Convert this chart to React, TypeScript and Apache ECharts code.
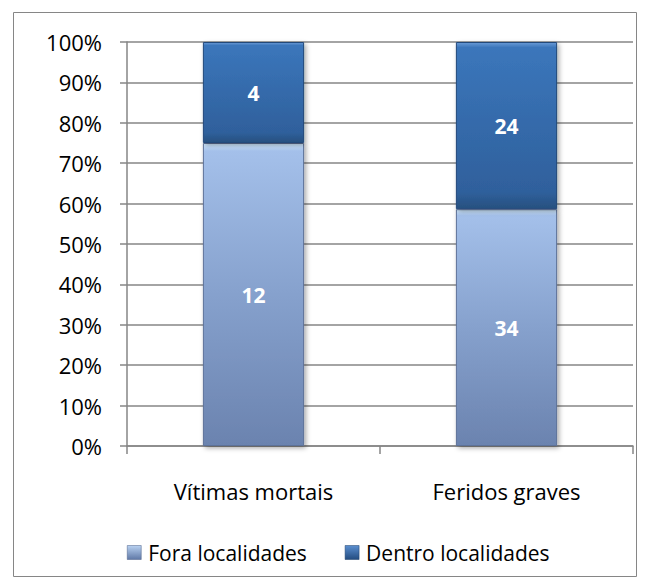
import React, { useEffect, useRef } from "react";
import * as echarts from "echarts";

const categories = ["Vítimas mortais", "Feridos graves"];
const foraValues = [12, 34];
const dentroValues = [4, 24];
const seriesNames = ["Fora localidades", "Dentro localidades"];

const totals = categories.map((_, i) => foraValues[i] + dentroValues[i]);
const foraPct = foraValues.map((v, i) => (v / totals[i]) * 100);
const dentroPct = dentroValues.map((v, i) => (v / totals[i]) * 100);

const FONT = "'Open Sans', sans-serif";

export default function App() {
  const ref = useRef<HTMLDivElement>(null);
  useEffect(() => {
    if (!ref.current) return;
    const chart = echarts.init(ref.current, null, { renderer: "svg" });
    const foraFill = new echarts.graphic.LinearGradient(0, 0, 0, 1, [
      { offset: 0, color: "#d2ebff" },
      { offset: 0.025, color: "#a4c0ea" },
      { offset: 0.5, color: "#86a1cd" },
      { offset: 1, color: "#6b83af" },
    ]);
    const dentroFill = new echarts.graphic.LinearGradient(0, 0, 0, 1, [
      { offset: 0, color: "#6a9ad6" },
      { offset: 0.03, color: "#3b76bb" },
      { offset: 0.9, color: "#2f609c" },
      { offset: 1, color: "#27507f" },
    ]);
    const legendFora = new echarts.graphic.LinearGradient(0, 0, 0, 1, [
      { offset: 0, color: "#b9d2f2" },
      { offset: 1, color: "#5f78a6" },
    ]);
    const legendDentro = new echarts.graphic.LinearGradient(0, 0, 0, 1, [
      { offset: 0, color: "#5b8fd0" },
      { offset: 1, color: "#234c80" },
    ]);
    const labelStyle = {
      show: true,
      position: "inside" as const,
      color: "#ffffff",
      fontWeight: "bold" as const,
      fontSize: 21,
      fontFamily: FONT,
    };
    chart.setOption({
      animation: false,
      backgroundColor: "#ffffff",
      grid: { left: 127, right: 16, top: 42, bottom: 142, containLabel: false },
      graphic: [
        {
          type: "rect",
          shape: { x: 13.5, y: 12.5, width: 623, height: 564 },
          style: { fill: "none", stroke: "#868686", lineWidth: 1 },
          z: -1,
          silent: true,
        },
      ],
      legend: {
        bottom: 20,
        left: 122,
        itemWidth: 14,
        itemHeight: 14,
        itemGap: 38,
        icon: "rect",
        textStyle: { fontSize: 21, fontFamily: FONT, color: "#000000", padding: [0, 0, 0, 2] },
        data: [
          { name: seriesNames[0], itemStyle: { color: legendFora, borderColor: "#4a5f87", borderWidth: 0.5 } },
          { name: seriesNames[1], itemStyle: { color: legendDentro, borderColor: "#1d3e68", borderWidth: 0.5 } },
        ],
      },
      xAxis: {
        type: "category",
        data: categories,
        axisLine: { show: true, lineStyle: { color: "#868686", width: 1.5 } },
        axisTick: { show: true, length: 8, lineStyle: { color: "#868686", width: 1.5 } },
        axisLabel: { color: "#000000", fontSize: 22, fontFamily: FONT, margin: 34 },
      },
      yAxis: {
        type: "value",
        min: 0,
        max: 100,
        interval: 10,
        axisLine: { show: true, lineStyle: { color: "#868686", width: 1.5 } },
        axisTick: { show: true, length: 7, lineStyle: { color: "#868686", width: 1.5 } },
        axisLabel: {
          color: "#000000",
          fontSize: 22,
          fontFamily: FONT,
          margin: 25,
          formatter: "{value}%",
        },
        splitLine: { show: true, lineStyle: { color: "#868686", width: 1.5 } },
      },
      series: [
        {
          name: seriesNames[0],
          type: "bar",
          stack: "total",
          barWidth: "40%",
          data: foraPct,
          itemStyle: {
            color: foraFill,
            borderColor: "#5d7299",
            borderWidth: 1,
            shadowBlur: 5,
            shadowOffsetX: 2,
            shadowOffsetY: 2,
            shadowColor: "rgba(0,0,0,0.35)",
          },
          label: { ...labelStyle, formatter: (p: any) => String(foraValues[p.dataIndex]) },
        },
        {
          name: seriesNames[1],
          type: "bar",
          stack: "total",
          barWidth: "40%",
          data: dentroPct,
          itemStyle: {
            color: dentroFill,
            borderColor: "#24487a",
            borderWidth: 1,
            shadowBlur: 5,
            shadowOffsetX: 2,
            shadowOffsetY: 2,
            shadowColor: "rgba(0,0,0,0.35)",
          },
          label: { ...labelStyle, formatter: (p: any) => String(dentroValues[p.dataIndex]) },
        },
      ],
    });
    return () => chart.dispose();
  }, []);
  return (
    <div
      ref={ref}
      style={{ position: "fixed", left: 0, top: 0, width: 649, height: 588 }}
    />
  );
}
